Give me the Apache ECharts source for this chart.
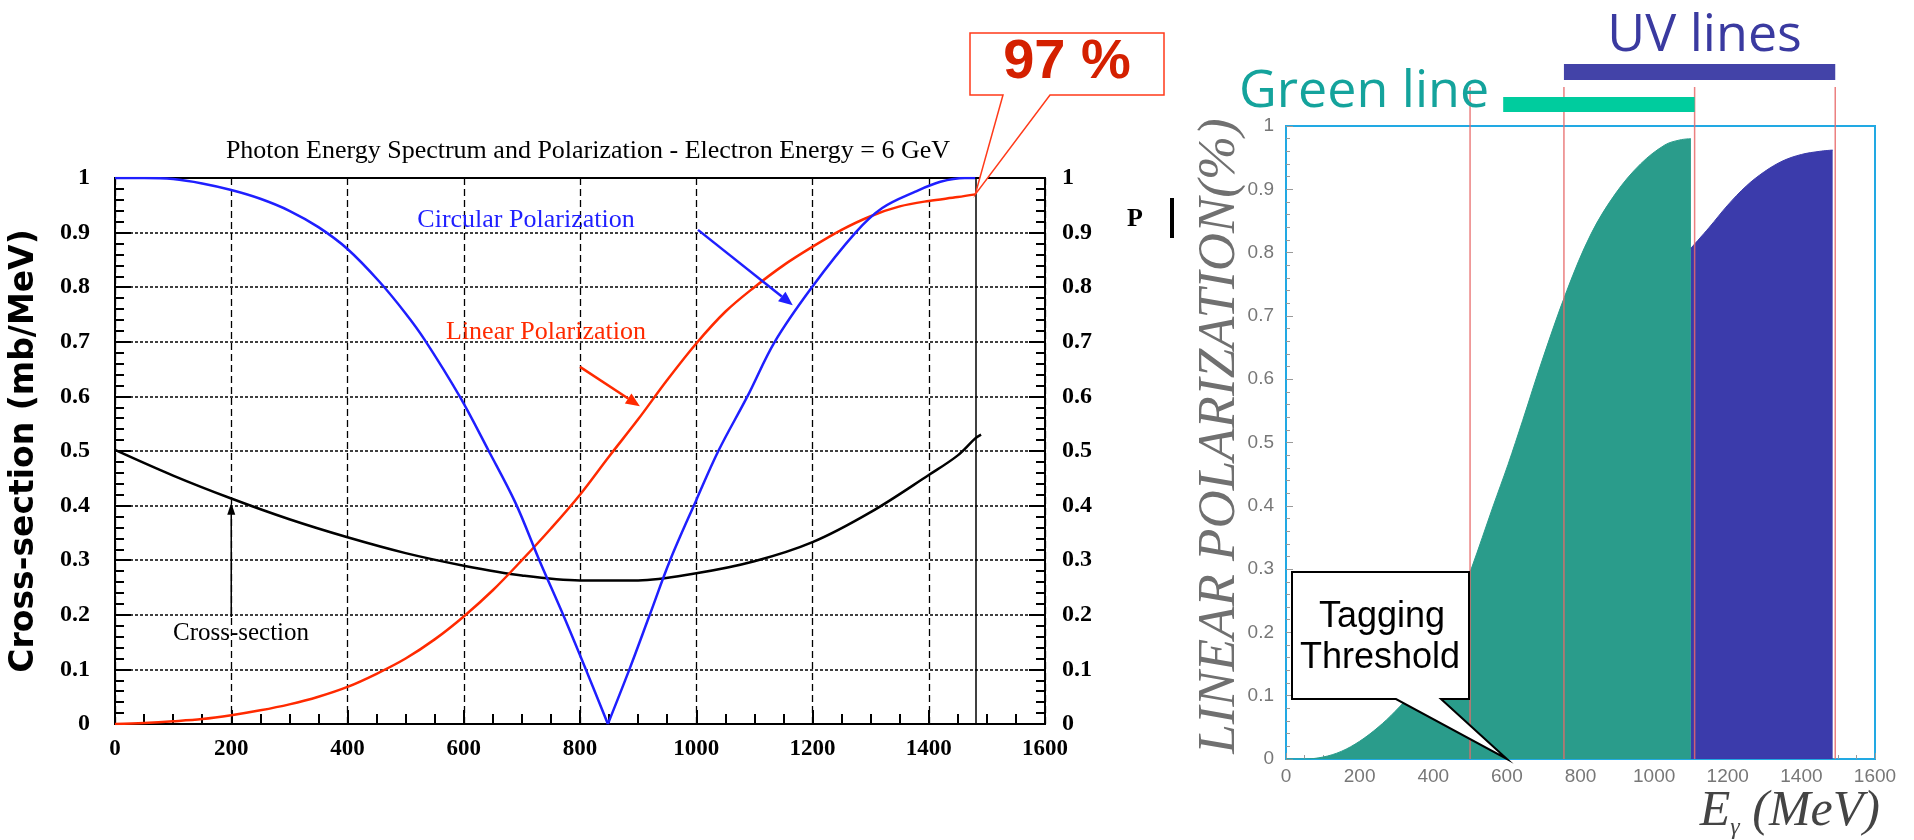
<!DOCTYPE html>
<html>
<head>
<meta charset="utf-8">
<script src="https://cdn.jsdelivr.net/npm/echarts@6/dist/echarts.min.js"></script>
<style>
  html, body { margin: 0; padding: 0; background: #fff; }
  #c { width: 1914px; height: 840px; }
</style>
</head>
<body>
<div id="c"></div>
<script>
// ---- Left panel: photon spectrum and polarization, 6 GeV electrons ----
// Circular polarization (MeV, fraction)
const energyCirc = [0, 50, 100, 150, 200, 250, 300, 350, 400, 455, 500, 532, 593, 643, 689, 730, 771, 810, 848,
                    885, 920, 955, 1000, 1038, 1088, 1135, 1199, 1274, 1320, 1377, 1420, 1462, 1480];
const circularPol = [1, 1, 0.998, 0.99, 0.978, 0.962, 0.94, 0.91, 0.87, 0.81, 0.752, 0.705, 0.6, 0.5, 0.405, 0.3, 0.2, 0.1, 0,
                     0.1, 0.2, 0.3, 0.41, 0.5, 0.6, 0.7, 0.8, 0.9, 0.945, 0.975, 0.993, 1, 1];
// Linear polarization
const energyLin = [0, 50, 100, 150, 200, 250, 300, 350, 400, 450, 500, 550, 600, 650, 700, 750, 800, 850, 900,
                   950, 1000, 1050, 1100, 1150, 1200, 1250, 1300, 1350, 1400, 1450, 1480];
const linearPol = [0, 0.002, 0.005, 0.009, 0.016, 0.025, 0.036, 0.05, 0.068, 0.092, 0.12, 0.155, 0.197, 0.245, 0.3,
                   0.358, 0.42, 0.49, 0.558, 0.63, 0.697, 0.755, 0.8, 0.84, 0.874, 0.905, 0.93, 0.948, 0.958, 0.965, 0.97];
// Cross-section (mb/MeV)
const energyXs = [0, 100, 200, 300, 400, 500, 600, 700, 800, 900, 1000, 1100, 1200, 1300, 1400, 1450, 1480, 1490];
const crossSection = [0.502, 0.455, 0.413, 0.375, 0.342, 0.313, 0.29, 0.272, 0.263, 0.263, 0.276, 0.298, 0.333,
                      0.388, 0.456, 0.492, 0.523, 0.53];
const comptonEdge = 1480;

// ---- Right panel: linear polarization by laser line ----
const energyGreen = [0, 50, 100, 150, 200, 250, 296, 350, 400, 450, 503, 563, 603, 643, 696, 763, 829, 896, 963, 1029, 1070, 1100];
const polGreen = [0, 0, 0.003, 0.012, 0.028, 0.05, 0.075, 0.11, 0.155, 0.22, 0.3, 0.4, 0.465, 0.535, 0.63, 0.74, 0.83, 0.894, 0.94, 0.97, 0.978, 0.98];
const energyUV = [1100, 1150, 1200, 1250, 1300, 1350, 1400, 1450, 1485];
const polUV = [0.807, 0.84, 0.875, 0.905, 0.928, 0.945, 0.955, 0.96, 0.962];
const rangeEnergies = [500, 755, 1110, 1492];
const greenLineRange = [590, 1110];
const uvLinesRange = [755, 1492];
const taggingThreshold = 600;

const serif = 'Liberation Serif';
const sans = 'Liberation Sans';

const pairs = (xs, ys) => xs.map((x, i) => [x, ys[i]]);
const circAll = pairs(energyCirc, circularPol);
const zeroAt = circularPol.indexOf(0);
const plain = v => String(v);

const chart = echarts.init(document.getElementById('c'), null, { renderer: 'canvas' });

const leftTick = { color: '#000', width: 2 };
const rightTick = { color: '#999', width: 1 };
const curve = { type: 'line', smooth: 0.35, showSymbol: false };

const option = {
  animation: false,
  backgroundColor: '#fff',
  title: {
    text: 'Photon Energy Spectrum and Polarization - Electron Energy = 6 GeV',
    left: 588, top: 138, textAlign: 'center', padding: 0,
    textStyle: { fontFamily: serif, fontSize: 26, fontWeight: 'normal', color: '#000' }
  },
  grid: [
    { left: 115, top: 178, width: 930, height: 546, show: true, borderColor: '#000', borderWidth: 2 },
    { left: 1286, top: 126, width: 589, height: 633, show: true, borderColor: '#22a9e3', borderWidth: 2 }
  ],
  xAxis: [
    {
      gridIndex: 0, type: 'value', min: 0, max: 1600, interval: 200,
      axisLine: { lineStyle: { color: '#000', width: 2 } },
      axisTick: { inside: true, length: 14, lineStyle: leftTick },
      minorTick: { show: true, splitNumber: 4, length: 10, lineStyle: leftTick },
      axisLabel: { margin: 14, fontFamily: serif, fontWeight: 'bold', fontSize: 23, color: '#000', formatter: plain },
      splitLine: { show: true, lineStyle: { color: '#000', width: 1.3, type: [7, 4] } }
    },
    {
      gridIndex: 1, type: 'value', min: 0, max: 1600, interval: 200,
      axisLine: { lineStyle: { color: '#22a9e3', width: 2 } },
      axisTick: { inside: true, length: 6, lineStyle: rightTick },
      minorTick: { show: true, splitNumber: 4, length: 4, lineStyle: rightTick },
      axisLabel: { margin: 8, fontFamily: sans, fontSize: 19, color: '#777', formatter: plain },
      splitLine: { show: false }
    }
  ],
  yAxis: [
    {
      gridIndex: 0, type: 'value', min: 0, max: 1, interval: 0.1, position: 'left',
      axisLine: { show: true, lineStyle: { color: '#000', width: 2 } },
      axisTick: { inside: true, length: 16, lineStyle: leftTick },
      minorTick: { show: true, splitNumber: 5, length: 9, lineStyle: leftTick },
      axisLabel: { margin: 25, fontFamily: serif, fontWeight: 'bold', fontSize: 24, color: '#000' },
      splitLine: { show: true, lineStyle: { color: '#000', width: 1.6, type: [3, 2] } }
    },
    {
      gridIndex: 0, type: 'value', min: 0, max: 1, interval: 0.1, position: 'right',
      axisLine: { show: true, lineStyle: { color: '#000', width: 2 } },
      axisTick: { inside: true, length: 16, lineStyle: leftTick },
      minorTick: { show: true, splitNumber: 5, length: 9, lineStyle: leftTick },
      axisLabel: { margin: 17, fontFamily: serif, fontWeight: 'bold', fontSize: 24, color: '#000' },
      splitLine: { show: false }
    },
    {
      gridIndex: 1, type: 'value', min: 0, max: 1, interval: 0.1, position: 'left',
      axisLine: { show: true, lineStyle: { color: '#22a9e3', width: 2 } },
      axisTick: { inside: true, length: 7, lineStyle: rightTick },
      minorTick: { show: true, splitNumber: 5, length: 4, lineStyle: rightTick },
      axisLabel: { margin: 12, fontFamily: sans, fontSize: 19, color: '#777' },
      splitLine: { show: false }
    }
  ],
  series: [
    Object.assign({}, curve, {
      name: 'Cross-section', xAxisIndex: 0, yAxisIndex: 0,
      data: pairs(energyXs, crossSection),
      lineStyle: { color: '#000', width: 2.5 },
      markLine: {
        silent: true, symbol: 'none', label: { show: false },
        lineStyle: { color: '#000', width: 1.5, type: 'solid' },
        data: [{ xAxis: comptonEdge }]
      }
    }),
    Object.assign({}, curve, {
      name: 'Linear Polarization', xAxisIndex: 0, yAxisIndex: 0,
      data: pairs(energyLin, linearPol),
      lineStyle: { color: '#ff2a00', width: 2.5 }
    }),
    Object.assign({}, curve, {
      name: 'Circular Polarization', xAxisIndex: 0, yAxisIndex: 0,
      data: circAll.slice(0, zeroAt + 1),
      lineStyle: { color: '#1f1fff', width: 2.5 }
    }),
    Object.assign({}, curve, {
      name: 'Circular Polarization', xAxisIndex: 0, yAxisIndex: 0,
      data: circAll.slice(zeroAt),
      lineStyle: { color: '#1f1fff', width: 2.5 }
    }),
    Object.assign({}, curve, {
      name: 'Green line', xAxisIndex: 1, yAxisIndex: 2,
      data: pairs(energyGreen, polGreen),
      lineStyle: { color: '#2a9c8b', width: 1 },
      areaStyle: { color: '#2a9c8b', opacity: 1 }
    }),
    Object.assign({}, curve, {
      name: 'UV lines', xAxisIndex: 1, yAxisIndex: 2,
      data: pairs(energyUV, polUV),
      lineStyle: { color: '#3b3bab', width: 1 },
      areaStyle: { color: '#3b3bab', opacity: 1 }
    })
  ]
};
chart.setOption(option);

// ---- Annotations placed through the axes' own scales ----
const L = (x, y) => chart.convertToPixel({ gridIndex: 0 }, [x, y]);
const R = (x, y) => chart.convertToPixel({ gridIndex: 1 }, [x, y]);

function arrow(from, to, color, width, headLen, headHalf) {
  const dx = to[0] - from[0], dy = to[1] - from[1];
  const d = Math.hypot(dx, dy), ux = dx / d, uy = dy / d;
  const bx = to[0] - ux * headLen, by = to[1] - uy * headLen;
  return [
    { type: 'line', shape: { x1: from[0], y1: from[1], x2: bx, y2: by }, style: { stroke: color, lineWidth: width }, z: 50 },
    { type: 'polygon', shape: { points: [to, [bx - uy * headHalf, by + ux * headHalf], [bx + uy * headHalf, by - ux * headHalf]] },
      style: { fill: color }, z: 50 }
  ];
}

function text(x, y, str, style, extra) {
  return Object.assign({ type: 'text', x: x, y: y, z: 60,
    style: Object.assign({ text: str, textAlign: 'center', textVerticalAlign: 'middle' }, style) }, extra || {});
}

const g = [];

// left panel labels and arrows
g.push(text(24, 451, 'Cross-section (mb/MeV)',
  { fontFamily: 'DejaVu Sans', fontWeight: 'bold', fontSize: 33, fill: '#000' }, { rotation: Math.PI / 2 }));
g.push(text(526, 220, 'Circular Polarization', { fontFamily: serif, fontSize: 26, fill: '#1f1fff' }));
g.push(text(546, 332, 'Linear Polarization', { fontFamily: serif, fontSize: 26, fill: '#ff2a00' }));
g.push(text(241, 633, 'Cross-section', { fontFamily: serif, fontSize: 25, fill: '#000' }));
g.push(...arrow(L(1003, 0.905), L(1166, 0.767), '#1f1fff', 2.5, 14, 6));
g.push(...arrow(L(800, 0.654), L(903, 0.582), '#ff2a00', 2.5, 14, 6));
g.push(...arrow(L(200, 0.196), L(200, 0.405), '#000', 1.5, 12, 4));

// 97 % callout pointing at the end of the linear polarization curve
const tip97 = L(comptonEdge, linearPol[linearPol.length - 1]);
g.push({ type: 'polygon', z: 55,
  shape: { points: [[970, 33], [1164, 33], [1164, 95], [1050, 95], tip97, [1003, 95], [970, 95]] },
  style: { fill: '#fff', stroke: '#ff3a1a', lineWidth: 1.5 } });
g.push(text(1067, 63, '97 %', { fontFamily: sans, fontWeight: 'bold', fontSize: 56, fill: '#d42000' }));

// P marker
g.push(text(1135, 219, 'P', { fontFamily: serif, fontWeight: 'bold', fontSize: 26, fill: '#000' }));
g.push({ type: 'rect', z: 60, shape: { x: 1170, y: 198, width: 4, height: 40 }, style: { fill: '#000' } });

// right panel: energy range markers, extending above the frame
const baseY = R(0, 0)[1];
rangeEnergies.forEach(e => {
  const x = R(e, 0)[0];
  g.push({ type: 'line', z: 40, shape: { x1: x, y1: 87, x2: x, y2: baseY },
    style: { stroke: '#e86a6a', lineWidth: 1.5, opacity: 0.85 } });
});
const gx0 = R(greenLineRange[0], 0)[0], gx1 = R(greenLineRange[1], 0)[0];
g.push({ type: 'rect', z: 45, shape: { x: gx0, y: 97, width: gx1 - gx0, height: 15 }, style: { fill: '#00cc9e' } });
const ux0 = R(uvLinesRange[0], 0)[0], ux1 = R(uvLinesRange[1], 0)[0];
g.push({ type: 'rect', z: 45, shape: { x: ux0, y: 64, width: ux1 - ux0, height: 16 }, style: { fill: '#4343a8' } });
g.push(text(gx0 - 14, 92, 'Green line', { fontFamily: 'Open Sans', fontSize: 52, fill: '#14a39c', textAlign: 'right' }));
g.push(text((ux0 + ux1) / 2 + 5, 36, 'UV lines', { fontFamily: 'Open Sans', fontSize: 52, fill: '#3a3aa0' }));

// right panel axis titles
g.push(text(1220, 436, 'LINEAR POLARIZATION(%)',
  { fontFamily: serif, fontStyle: 'italic', fontSize: 53, fill: '#707070' }, { rotation: Math.PI / 2 }));
g.push({ type: 'text', z: 60, x: 1880, y: 812,
  style: {
    text: '{e|E}{s|γ}{e| (MeV)}', textAlign: 'right', textVerticalAlign: 'middle',
    rich: {
      e: { fontFamily: serif, fontStyle: 'italic', fontSize: 50, fill: '#444', lineHeight: 56 },
      s: { fontFamily: serif, fontStyle: 'italic', fontSize: 24, fill: '#444', lineHeight: 56, verticalAlign: 'bottom', padding: [26, 0, 0, 0] }
    }
  } });

// tagging threshold callout
const tipTag = R(taggingThreshold, 0);
g.push({ type: 'polygon', z: 55,
  shape: { points: [[1292, 572], [1469, 572], [1469, 699], [1441, 699], tipTag, [1396, 699], [1292, 699]] },
  style: { fill: '#fff', stroke: '#000', lineWidth: 2 } });
g.push(text(1382, 617, 'Tagging', { fontFamily: sans, fontSize: 36, fill: '#000' }));
g.push(text(1380, 658, 'Threshold', { fontFamily: sans, fontSize: 36, fill: '#000' }));

chart.setOption({ graphic: g });
</script>
</body>
</html>
